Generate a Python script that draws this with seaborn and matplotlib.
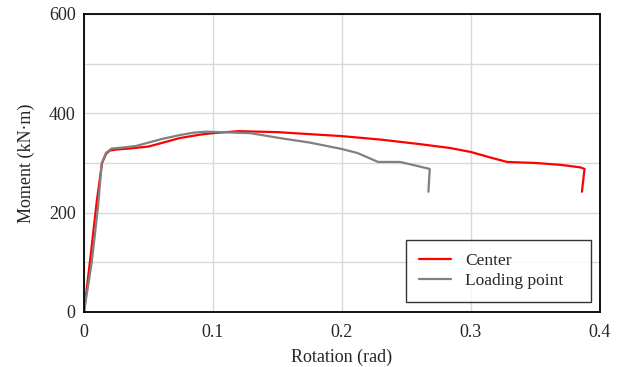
import numpy as np
import pandas as pd
import seaborn as sns
import matplotlib.pyplot as plt

# Moment-rotation data ########################################################

rot_center = [0.0, 0.005, 0.010, 0.014, 0.017, 0.020, 0.025, 0.035, 0.050, 0.060,
              0.074, 0.090, 0.100, 0.120, 0.150, 0.175, 0.200, 0.230, 0.260,
              0.284, 0.300, 0.315, 0.328, 0.350, 0.370, 0.385, 0.388, 0.386]
mom_center = [0, 110, 225, 300, 318, 325, 327, 329, 333, 340,
              350, 357, 360, 364, 362, 358, 354, 347, 338,
              330, 322, 311, 302, 300, 296, 291, 288, 242]

rot_load = [0.0, 0.006, 0.011, 0.0137, 0.017, 0.0214, 0.030, 0.040, 0.0486, 0.060,
            0.074, 0.085, 0.095, 0.105, 0.129, 0.152, 0.175, 0.200, 0.212,
            0.220, 0.228, 0.245, 0.268, 0.267]
mom_load = [0, 100, 215, 299, 320, 329, 331, 334, 340, 348,
            356, 361, 363, 362, 360, 350, 341, 328, 320,
            311, 302, 302, 288, 242]

df = pd.concat([
    pd.DataFrame({'rot': rot_center, 'mom': mom_center, 'series': 'Center'}),
    pd.DataFrame({'rot': rot_load, 'mom': mom_load, 'series': 'Loading point'}),
], ignore_index=True)

# Plot ########################################################################

sns.set_style('white')
plt.rcParams['font.family'] = ['Liberation Serif', 'DejaVu Serif']

fig = plt.figure(figsize=(6.19, 3.67), dpi=100)
ax = fig.add_axes([0.1357, 0.150, 0.8336, 0.812])

sns.lineplot(data=df, x='rot', y='mom', hue='series', sort=False,
             palette={'Center': '#ff0000', 'Loading point': '#808080'},
             linewidth=1.6, ax=ax)

ax.set_xlim(0, 0.4)
ax.set_ylim(0, 600)
ax.set_xticks([0, 0.1, 0.2, 0.3, 0.4])
ax.set_xticklabels(['0', '0.1', '0.2', '0.3', '0.4'])
ax.set_yticks([0, 200, 400, 600])
ax.set_yticks(np.arange(0, 601, 100), minor=True)
ax.grid(True, which='both', color='#d9d9d9', linewidth=1)
ax.set_axisbelow(True)
ax.tick_params(length=0, labelsize=13)
ax.tick_params(axis='x', pad=9)
ax.tick_params(axis='y', pad=6)
for s in ax.spines.values():
    s.set_color('black')
    s.set_linewidth(1.3)

ax.set_xlabel('Rotation (rad)', fontsize=13, labelpad=5)
ax.set_ylabel('Moment (kN·m)', fontsize=13, labelpad=10)

leg = ax.legend(loc='lower left', fontsize=12.5, frameon=True, fancybox=False,
                edgecolor='black', handlelength=1.85, handletextpad=0.8,
                borderpad=0.75, borderaxespad=0, labelspacing=0.2,
                mode='expand', bbox_to_anchor=(0.624, 0.034, 0.3585, 0.185))
leg.get_frame().set_linewidth(1.0)
leg.set_title(None)

fig.savefig('out.png', dpi=100)
